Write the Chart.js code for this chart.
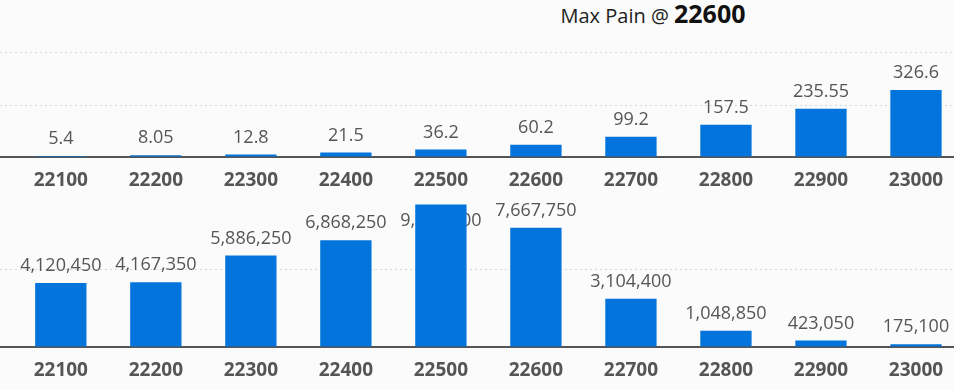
<!DOCTYPE html>
<html>
<head>
<meta charset="utf-8">
<script src="https://cdn.jsdelivr.net/npm/chart.js@4.4.1/dist/chart.umd.min.js"></script>
<style>
  html, body { margin: 0; padding: 0; background: #fbfbfb; overflow: hidden; }
  body { width: 954px; height: 390px; position: relative; font-family: 'Open Sans', sans-serif; }
  #title { position: absolute; left: 653px; top: -4px; transform: translateX(-50%);
           white-space: nowrap; font-size: 20px; color: #222; }
  #title b { font-size: 25px; font-weight: 700; color: #111; }
  .box { position: absolute; left: 0; width: 954px; height: 195px; }
</style>
</head>
<body>
<div id="title">Max Pain @ <b>22600</b></div>
<div class="box" style="top:0"><canvas id="premium" width="954" height="195"></canvas></div>
<div class="box" style="top:195px"><canvas id="pain" width="954" height="195"></canvas></div>

<script>
// strikes and values
var strikes = [22100, 22200, 22300, 22400, 22500, 22600, 22700, 22800, 22900, 23000];
var premium = [5.4, 8.05, 12.8, 21.5, 36.2, 60.2, 99.2, 157.5, 235.55, 326.6];
var pain = [4120450, 4167350, 5886250, 6868250, 9164200, 7667750, 3104400, 1048850, 423050, 175100];

// grid lines
var premiumTicks = [0, 250];
var premiumMax = 512;
var painTicks = [0, 5000000];
var painMax = 9520000;

var barColor = '#0274db';
var textColor = '#555';

// labels over the bars (drawn under the bars, like the original)
var valueLabels = {
  id: 'valueLabels',
  beforeDatasetsDraw: function (chart, args, opts) {
    var ctx = chart.ctx;
    var meta = chart.getDatasetMeta(0);
    var values = chart.data.datasets[0].data;
    ctx.save();
    ctx.font = '18px "Open Sans"';
    ctx.fillStyle = textColor;
    ctx.textAlign = 'center';
    ctx.textBaseline = 'middle';
    meta.data.forEach(function (bar, i) {
      var y = bar.y - 17;
      if (y - 9 < chart.chartArea.top) y = bar.y + 16;
      ctx.fillText(opts.format(values[i].y), bar.x, y);
    });
    ctx.restore();
  }
};

function makeChart(id, values, ticks, max, axisHeight, plotHeight, fmt) {
  var ctx = document.getElementById(id).getContext('2d');
  return new Chart(ctx, {
    type: 'bar',
    data: {
      datasets: [{
        data: strikes.map(function (s, i) { return { x: s, y: values[i] }; }),
        backgroundColor: barColor,
        borderWidth: 0,
        categoryPercentage: 1,
        barPercentage: 0.54
      }]
    },
    plugins: [valueLabels],
    options: {
      responsive: false,
      animation: false,
      layout: { padding: { top: 195 - axisHeight - plotHeight, left: 0, right: 0, bottom: 0 } },
      plugins: {
        legend: { display: false },
        tooltip: { enabled: false },
        valueLabels: { format: fmt }
      },
      scales: {
        x: {
          type: 'linear',
          offset: false,
          min: 22036,
          max: 23040,
          afterBuildTicks: function (scale) {
            scale.ticks = strikes.map(function (v) { return { value: v }; });
          },
          afterFit: function (scale) { scale.height = axisHeight; },
          grid: { display: false, offset: false },
          border: { display: true, color: '#555', width: 2 },
          ticks: {
            autoSkip: false,
            maxRotation: 0,
            padding: 4,
            color: textColor,
            font: { family: 'Open Sans', size: 19, weight: 'bold' },
            callback: function (v) { return String(v); }
          }
        },
        y: {
          min: 0,
          max: max,
          afterBuildTicks: function (scale) {
            scale.ticks = ticks.concat(id === 'premium' ? [max] : []).map(function (v) { return { value: v }; });
          },
          afterFit: function (scale) { scale.width = 0; },
          ticks: { display: false },
          border: { display: false, dash: [2, 3] },
          grid: {
            drawTicks: false,
            lineWidth: 1,
            color: function (c) { return c.tick && c.tick.value === 0 ? 'rgba(0,0,0,0)' : '#d6d6d6'; }
          }
        }
      }
    }
  });
}

makeChart('premium', premium, premiumTicks, premiumMax, 38, 105, function (v) { return String(v); });
makeChart('pain', pain, painTicks, painMax, 43, 148, function (v) { return v.toLocaleString('en-US'); });
</script>
</body>
</html>
